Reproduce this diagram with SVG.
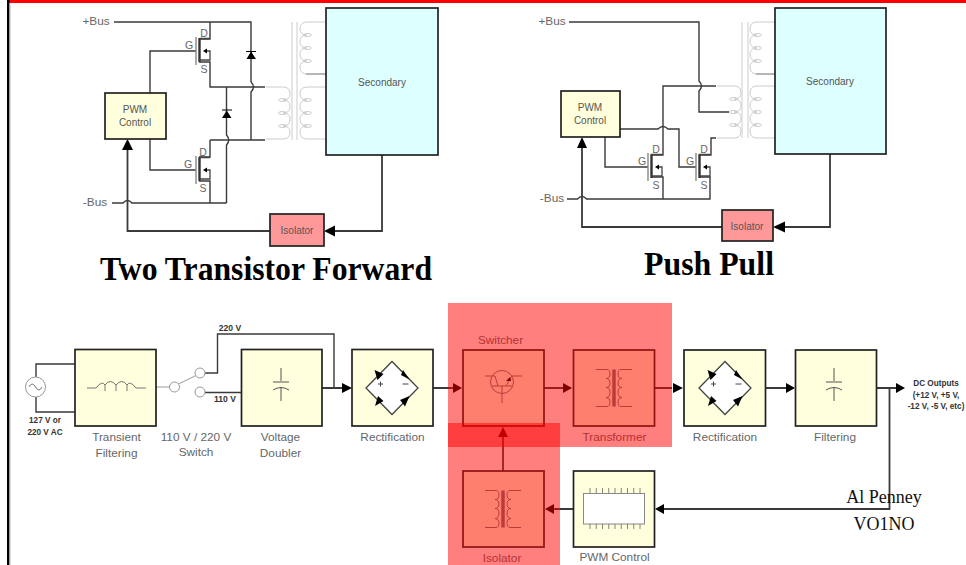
<svg xmlns="http://www.w3.org/2000/svg" xmlns:xlink="http://www.w3.org/1999/xlink" width="966" height="565" viewBox="0 0 966 565">
<style>
text{font-family:"Liberation Sans",Arial,sans-serif;fill:#555;font-size:10px;text-anchor:middle}
.sm{font-size:10.500px;fill:#666}
.lb{font-size:11.800px;fill:#666}
.dk{font-size:8.200px;fill:#333;font-weight:bold;stroke:none}
.vd{font-size:8.600px;fill:#333;font-weight:bold}
.title{font-family:"Liberation Serif",serif;font-weight:bold;fill:#000;font-size:33px}
.sig{font-family:"Liberation Serif",serif;fill:#111;font-size:18px}
.w{fill:none;stroke:#3a3a3a;stroke-width:1.400}
.wb{fill:none;stroke:#3a3a3a;stroke-width:1.800}
.g{fill:none;stroke:#ccc;stroke-width:1}
.gm{fill:none;stroke:#888;stroke-width:1}
.box{stroke:#222;stroke-width:1.700}
.y{fill:#ffffdd}
.c{fill:#ddffff}
.r{fill:#ff9999}
.ar{fill:#000;stroke:none}
.ov{fill:#ff0000;fill-opacity:.5}
</style>
<defs>
<g id="mos">
<path d="M0 -14V14" fill="none" stroke="#888" stroke-width="1.400"/>
<path d="M3.500 -13V11" fill="none" stroke="#333" stroke-width="2.400"/>
<path d="M3.500 -12.500H14M3.500 9H14V0H9" fill="none" stroke="#444" stroke-width="1.300"/>
<path d="M7 0L11 -2.500V2.500Z" class="ar"/>
</g>
<g id="coil">
<path class="g" d="M26 0H7Q0 0 0 7Q0 13 7 13Q0 13 0 19.500Q0 26 7 26Q0 26 0 32Q0 39 7 39Q0 39 0 45Q0 52 7 52H26"/>
<ellipse class="g" cx="7.500" cy="13" rx="4" ry="1.500"/><ellipse class="g" cx="7.500" cy="26" rx="4" ry="1.500"/><ellipse class="g" cx="7.500" cy="39" rx="4" ry="1.500"/>
</g>
<g id="coilL">
<path class="g" d="M-24 0H-7Q0 0 0 7Q0 13 -7 13Q0 13 0 19.500Q0 26 -7 26Q0 26 0 32Q0 39 -7 39Q0 39 0 45Q0 52 -7 52H-24"/>
<ellipse class="g" cx="-7.500" cy="13" rx="4" ry="1.500"/><ellipse class="g" cx="-7.500" cy="26" rx="4" ry="1.500"/><ellipse class="g" cx="-7.500" cy="39" rx="4" ry="1.500"/>
</g>
<g id="xf">
<path d="M0 0V37" fill="none" stroke="#777" stroke-width="3.500"/>
<path d="M-18 0H-7Q-4 0 -4 4.500Q-4 9 -8 9Q-4 9 -4 13.500Q-4 18 -8 18Q-4 18 -4 22.500Q-4 28 -8 28Q-4 28 -4 32Q-4 37 -7 37H-18" fill="none" stroke="#777" stroke-width="1"/>
<path d="M18 0H7Q4 0 4 4.500Q4 9 8 9Q4 9 4 13.500Q4 18 8 18Q4 18 4 22.500Q4 28 8 28Q4 28 4 32Q4 37 7 37H18" fill="none" stroke="#777" stroke-width="1"/>
</g>
<g id="bridge">
<path d="M-26 0L0 -26.500L26 0L0 26.500Z" fill="#fff" stroke="#444" stroke-width="1.300"/>
<path d="M-17.500 -18L-8.500 -14L-14.500 -8Z M11 -18L17.500 -8.500L9 -13Z M-17 18L-8.500 13L-14 8Z M17.500 8L8 12L13 18.500Z" class="ar"/>
<path d="M-14 -4H-9M-11.500 -6.500V-1.500M10.500 -4H16.500" fill="none" stroke="#444" stroke-width="1"/>
</g>
<g id="cap">
<path d="M0 -20V-7M-8 -6H8M-8 2Q0 -3 8 2M0 -1V13" fill="none" stroke="#555" stroke-width="1"/>
</g>
</defs>

<rect id="bg" width="966" height="565" fill="#fff"/>
<rect x="9" y="0" width="957" height="3" fill="#ff0000"/>
<rect x="7" y="0" width="2.500" height="565" fill="#000"/>
<rect x="9.500" y="3" width="1" height="562" fill="#bbb"/>

<g id="connectors">
<path class="w" d="M114 22H251V82"/>
<path class="w" d="M251 82Q256 87 251 92V140"/>
<path class="w" d="M210 22V39H199M199 62H210V87H265M226.500 87V135Q231 140 226.500 145V203"/>
<path class="w" d="M210 140H265M210 140V157H199M199 181H210V203"/>
<path class="w" d="M112 203H123Q127.500 198 132 203H226.500"/>
<path class="w" d="M150 93V51H196M150 139V170H196"/>
<path class="wb" d="M127.500 149V231H270M335 231H382V155"/>
<path class="ar" d="M127.500 139L122 150H133Z"/>
<path class="ar" d="M324 231L335 225.500V236.500Z"/>
<path class="ar" d="M246.500 59H256L251 51.500ZM246 51H256V52H246ZM222 118H231.500L226.700 110.500ZM222 109.500H232V110.500H222Z"/>
<path class="w" d="M569 22H699V81Q704 86 699 91V112H729"/>
<path class="w" d="M716 86H663V155H652M663 199V177H652M567 199H577.500Q582 194 586.500 199H710V177H700M700 155H711V138H716"/>
<path class="w" d="M620 129H658Q663 124 668 129H679V167H696M605 137V167H648"/>
<path class="wb" d="M582 147V227H722M785 227H830V154"/>
<path class="ar" d="M582 137L577 148H587Z"/>
<path class="ar" d="M773 227L785 221.500V232.500Z"/>
<path class="w" d="M36 377V364H75M36 397V412H75"/>
<path class="g" d="M156 387H170M178.500 384L196 375.500" style="stroke:#999"/>
<path class="w" d="M205 373H217.500V334H334V388"/>
<path class="w" d="M205 392.500H241"/>
<path class="wb" d="M322 388H342M433 388H453M544 388H563M654 388H672M765 388H786M876 388H897M503 471V436"/>
<path class="wb" d="M889.500 388V509H664M573 509H554"/>
<g class="ar">
<path d="M352 388L342 383V393ZM462 388L453 383V393ZM572 388L563 383V393ZM683 388L673 383V393ZM795 388L786 383V393ZM905 388L896 383V393Z"/>
<path d="M503 427L498 437H508ZM655 509L664 504V514ZM545 509L554 504V514Z"/>
</g>
</g>

<g id="tl-labels"><text class="lb" x="96" y="25">+Bus</text><text class="lb" x="95" y="206">-Bus</text></g>
<g id="tl-q1"><use xlink:href="#mos" href="#mos" x="196" y="51"/><text class="sm" x="189" y="49">G</text><text class="sm" x="204" y="37">D</text><text class="sm" x="204" y="73">S</text></g>
<g id="tl-q2"><use xlink:href="#mos" href="#mos" x="196" y="170"/><text class="sm" x="188" y="168">G</text><text class="sm" x="203" y="156">D</text><text class="sm" x="203" y="192">S</text></g>
<g id="tl-xfmr">
<path class="g" d="M292 22V140M297 22V140"/>
<use xlink:href="#coil" href="#coil" x="300" y="22"/><use xlink:href="#coil" href="#coil" x="300" y="87"/><use xlink:href="#coilL" href="#coilL" x="290" y="87"/>
<path class="gm" d="M306 74H326"/>
</g>
<g id="tl-pwm"><rect class="box y" x="105" y="93" width="61" height="46"/><text x="135" y="113">PWM</text><text x="135" y="126">Control</text></g>
<g id="tl-secondary"><rect class="box c" x="326" y="8" width="112" height="147"/><text x="382" y="86">Secondary</text></g>
<g id="tl-isolator"><rect class="box r" x="270" y="214" width="54" height="32"/><text x="297" y="234">Isolator</text></g>
<text id="title1" class="title" x="266" y="280" textLength="332" lengthAdjust="spacingAndGlyphs">Two Transistor Forward</text>

<g id="tr-labels"><text class="lb" x="552" y="25">+Bus</text><text class="lb" x="552" y="202">-Bus</text></g>
<g id="tr-q1"><use xlink:href="#mos" href="#mos" x="648" y="167"/><text class="sm" x="642" y="165">G</text><text class="sm" x="656" y="153">D</text><text class="sm" x="656" y="189">S</text></g>
<g id="tr-q2"><use xlink:href="#mos" href="#mos" x="696" y="167"/><text class="sm" x="690" y="165">G</text><text class="sm" x="704" y="153">D</text><text class="sm" x="704" y="189">S</text></g>
<g id="tr-xfmr">
<path class="g" d="M742 22V138M748 22V138"/>
<use xlink:href="#coil" href="#coil" x="750" y="22"/><use xlink:href="#coil" href="#coil" x="750" y="86"/><use xlink:href="#coilL" href="#coilL" x="741" y="86"/>
<path class="gm" d="M756 74H775"/>
</g>
<g id="tr-pwm"><rect class="box y" x="561" y="91" width="59" height="46"/><text x="590" y="111">PWM</text><text x="590" y="124">Control</text></g>
<g id="tr-secondary"><rect class="box c" x="775" y="8" width="111" height="146"/><text x="830" y="85">Secondary</text></g>
<g id="tr-isolator"><rect class="box r" x="722" y="210" width="51" height="31"/><text x="747" y="230">Isolator</text></g>
<text id="title2" class="title" x="709" y="275" textLength="130" lengthAdjust="spacingAndGlyphs">Push Pull</text>

<g id="ac-source"><circle cx="35.500" cy="387" r="10" fill="#fff" stroke="#999" stroke-width="1"/><path d="M29 387Q32 381 35.500 387T42 387" fill="none" stroke="#777"/><text class="dk" x="45" y="423">127 V or</text><text class="dk" x="45" y="435">220 V AC</text></g>
<g id="filter"><rect class="box y" x="75" y="349.500" width="81" height="76.500"/><path d="M87 388H96Q102 380 105 385V391M105 385Q110 378 116 385V391M116 385Q122 378 127 385V391M127 385Q130 380 136 388H146" fill="none" stroke="#777" stroke-width="1"/><text class="lb" x="116.500" y="441">Transient</text><text class="lb" x="116.500" y="457">Filtering</text></g>
<g id="switch"><circle cx="174.500" cy="387" r="5" fill="#fff" stroke="#999"/><circle cx="200" cy="373" r="5" fill="#fff" stroke="#999"/><circle cx="200" cy="392" r="5" fill="#fff" stroke="#999"/><text class="lb" x="196" y="441">110 V / 220 V</text><text class="lb" x="196" y="456">Switch</text><text class="vd" x="230" y="331">220 V</text><text class="vd" x="225" y="402">110 V</text></g>
<g id="doubler"><rect class="box y" x="241.500" y="349.500" width="80.500" height="76.500"/><use xlink:href="#cap" href="#cap" x="281" y="388"/><text class="lb" x="280.500" y="441">Voltage</text><text class="lb" x="280.500" y="457">Doubler</text></g>
<g id="rect1"><rect class="box y" x="352" y="349.500" width="81" height="76.500"/><use xlink:href="#bridge" href="#bridge" x="392" y="388"/><text class="lb" x="392.500" y="441">Rectification</text></g>
<g id="switcher"><rect class="box y" x="463" y="350" width="81" height="76"/><circle cx="502" cy="382" r="11.500" fill="none" stroke="#777"/><path d="M485 376H495L498 386M522 376H512L506 386M492 386H512M502 386V403" fill="none" stroke="#777"/><path d="M510 377L506 381L511 381Z" class="ar"/><text class="lb" x="500.500" y="344">Switcher</text></g>
<g id="transformer"><rect class="box y" x="573.500" y="350" width="81" height="76"/><use xlink:href="#xf" href="#xf" x="614" y="369.500"/><text class="lb" x="614.500" y="441">Transformer</text></g>
<g id="rect2"><rect class="box y" x="684" y="350" width="81.500" height="76"/><use xlink:href="#bridge" href="#bridge" x="725" y="388"/><text class="lb" x="725" y="441">Rectification</text></g>
<g id="filtering"><rect class="box y" x="795.500" y="350" width="81" height="76"/><use xlink:href="#cap" href="#cap" x="834" y="388"/><text class="lb" x="835" y="441">Filtering</text></g>
<g id="outputs"><text class="dk" x="936" y="386">DC Outputs</text><text class="dk" x="936" y="398">(+12 V, +5 V,</text><text class="dk" x="936" y="409">-12 V, -5 V, etc)</text></g>
<g id="isolator"><rect class="box y" x="463" y="471" width="81" height="76"/><use xlink:href="#xf" href="#xf" x="503" y="490.500"/><text class="lb" x="502" y="562">Isolator</text></g>
<g id="pwm"><rect class="box y" x="573.500" y="471" width="81" height="76"/><rect x="583.500" y="493.500" width="61" height="30.500" fill="#fff" stroke="#888"/><path d="M590 488V493M596.250 488V493M602.500 488V493M608.750 488V493M615 488V493M621.250 488V493M627.500 488V493M633.750 488V493M640 488V493M590 524V529M596.250 524V529M602.500 524V529M608.750 524V529M615 524V529M621.250 524V529M627.500 524V529M633.750 524V529M640 524V529" stroke="#666" stroke-width=".8" fill="none"/><text class="lb" x="614.500" y="561">PWM Control</text></g>

<g id="highlights"><rect class="ov" x="448" y="303" width="224" height="144"/><rect class="ov" x="448" y="423" width="112" height="142"/></g>
<g id="credit"><text class="sig" x="884" y="503">Al Penney</text><text class="sig" x="884" y="530">VO1NO</text></g>
</svg>
